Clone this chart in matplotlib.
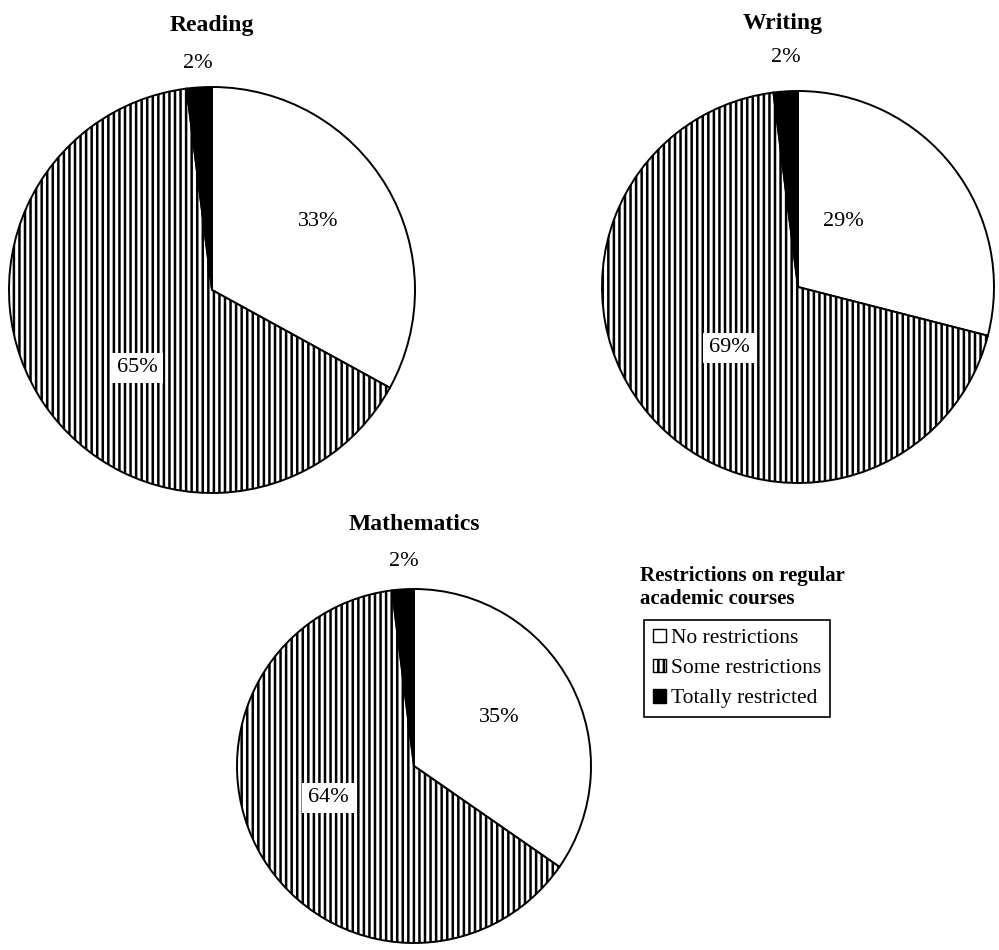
import matplotlib
matplotlib.use("Agg")
import matplotlib.pyplot as plt
from matplotlib.patches import Patch

plt.rcParams['font.family'] = ['Liberation Serif', 'DejaVu Serif']
plt.rcParams['hatch.linewidth'] = 1.8

# share of students by restriction level, per subject
categories = ["No restrictions", "Some restrictions", "Totally restricted"]
reading = [33, 65, 2]
writing = [29, 69, 2]
mathematics = [35, 64, 2]
subjects = ["Reading", "Writing", "Mathematics"]

fills = ['white', 'white', 'black']
hatches = ['', '|||', '']

W, H = 999, 950

# layout in pixel coords (y measured from the top)
pie_layout = {
    "Reading": dict(center=(212, 290), radius=203, title=(212, 25),
                    labels=[(318, 221), (137, 368), (198, 64)]),
    "Writing": dict(center=(798, 287), radius=196, title=(783, 24),
                    labels=[(843, 222), (729, 348), (786, 58)]),
    "Mathematics": dict(center=(414, 766), radius=177, title=(414, 524),
                        labels=[(499, 718), (328, 798), (404, 561)]),
}


def fy(y):
    return H - y


fig = plt.figure(figsize=(W / 100, H / 100), dpi=100)
ax = fig.add_axes([0, 0, 1, 1])

for name, values in zip(subjects, [reading, writing, mathematics]):
    lay = pie_layout[name]
    cx, cy = lay["center"]
    wedges, _ = ax.pie(values, colors=fills, startangle=90, counterclock=False,
                       center=(cx, fy(cy)), radius=lay["radius"],
                       wedgeprops=dict(edgecolor='black', linewidth=1.4))
    for w, h in zip(wedges, hatches):
        w.set_hatch(h)
    tx, ty = lay["title"]
    ax.text(tx, fy(ty), name, ha='center', va='center', fontsize=17,
            fontweight='bold')
    for v, (lx, ly) in zip(values, lay["labels"]):
        ax.text(lx, fy(ly), f"{v}%", ha='center', va='center', fontsize=16,
                bbox=dict(facecolor='white', edgecolor='none', pad=4))

ax.set_xlim(0, W)
ax.set_ylim(0, H)
ax.set_aspect('equal')
ax.axis('off')

# legend title sits above the boxed entries
ax.text(640, fy(588), "Restrictions on regular\nacademic courses",
        ha='left', va='center', fontsize=15, fontweight='bold',
        linespacing=1.2)
handles = [Patch(facecolor=f, edgecolor='black', hatch=h, linewidth=1.0)
           for f, h in zip(fills, hatches)]
leg = ax.legend(handles, categories, loc='upper left',
                bbox_to_anchor=(644 / W, 1 - 620 / H), borderaxespad=0,
                fontsize=15.5, frameon=True, fancybox=False, framealpha=1,
                edgecolor='black', handlelength=0.6, handleheight=0.6,
                handletextpad=0.25, borderpad=0.4, labelspacing=0.5)
leg.get_frame().set_linewidth(1.2)

fig.savefig("out.png", dpi=100, facecolor='white')
